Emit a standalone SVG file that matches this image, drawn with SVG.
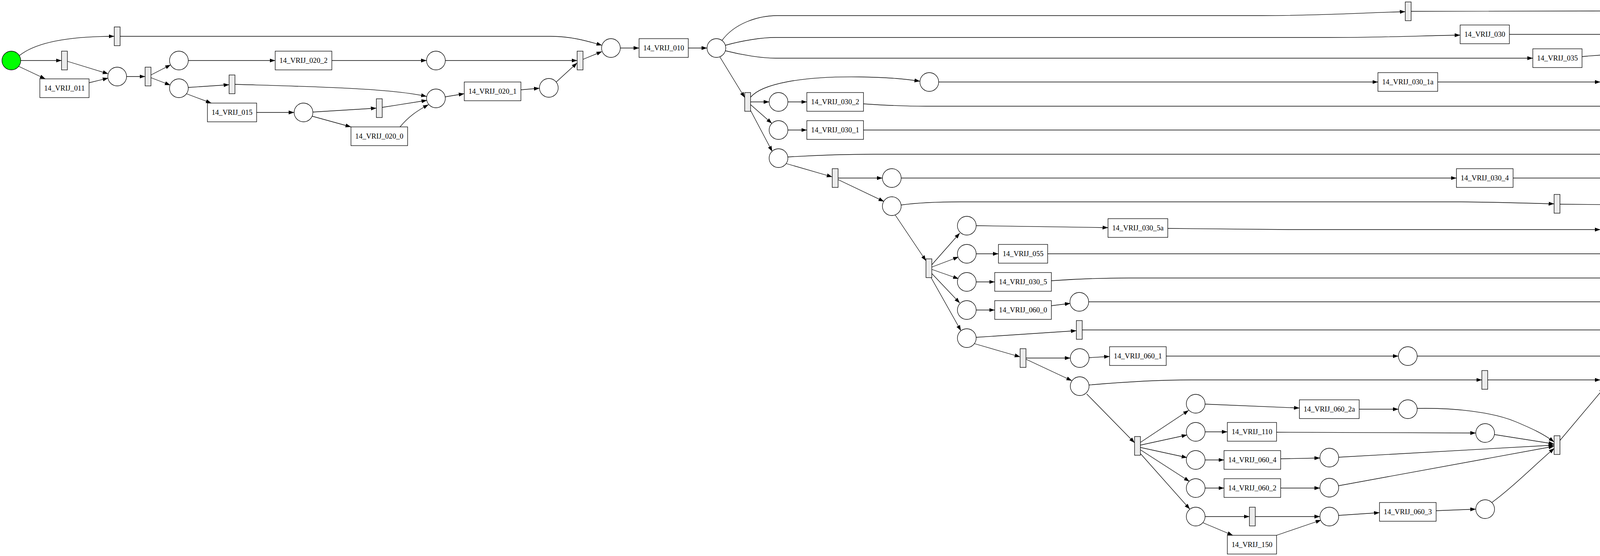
<svg xmlns="http://www.w3.org/2000/svg" width="5089" height="1424" viewBox="0 0 5089 1424">
<defs>
<style>
.place circle{fill:#fff;stroke:#000;stroke-width:1.3}
.silent rect{fill:#ececec;stroke:#000;stroke-width:1.3}
.trans rect{fill:#fff;stroke:#000;stroke-width:1.3}
.trans text{font-family:"Liberation Serif","Times New Roman",serif;font-size:18.67px;text-anchor:middle;fill:#000}
#edges path{fill:none;stroke:#000;stroke-width:1.3;marker-end:url(#arr)}
</style>
<marker id="arr" viewBox="0 0 14 10" refX="14" refY="5" markerWidth="14" markerHeight="10" markerUnits="userSpaceOnUse" orient="auto"><path d="M0,0 L14,5 L0,10 z" fill="#000"/></marker>
</defs>
<rect width="5089" height="1424" fill="#fff"/>
<g id="edges">
<path d="M50,142 C100,102 200,93 292.5,93"/>
<path d="M307.5,93 L1410,93 C1460,93 1500,104 1541,116"/>
<path d="M53,155 L157.5,155"/>
<path d="M48,170 L116,202"/>
<path d="M172.5,157 L277,189"/>
<path d="M228,212 L277,200"/>
<path d="M324,196 L371.5,196"/>
<path d="M386.5,192 L437,166"/>
<path d="M386.5,199 L436,218"/>
<path d="M482,155 L704.5,155"/>
<path d="M482,224 L586.5,217"/>
<path d="M477,240 L541,264"/>
<path d="M601.5,216 C800,222 1000,226 1092,247"/>
<path d="M657,288 L753,288"/>
<path d="M849.5,155 L1092,155"/>
<path d="M1140,155 L1477.5,155"/>
<path d="M801,287 L963.5,277"/>
<path d="M797,297 L898.5,325"/>
<path d="M978.5,275 L1093,257"/>
<path d="M1024,325 C1045,300 1065,285 1097,268"/>
<path d="M1140,248 L1188.5,240"/>
<path d="M1333.5,230 L1381,226"/>
<path d="M1424,210 L1477.5,161"/>
<path d="M1492.5,152 L1541,132"/>
<path d="M1588,123 L1636,123"/>
<path d="M1762,123 L1810,123"/>
<path d="M1848,104 C1880,60 1940,40 1990,40 L3230,40 C3400,40 3500,32 3597.5,30"/>
<path d="M1857,116 C1900,104 1950,96 1985,96 L3400,96 C3550,96 3650,91 3738,90"/>
<path d="M1857,130 C1900,141 1950,149 1985,149 L3924,149"/>
<path d="M1843,146 L1906.5,250"/>
<path d="M3612.5,29 L4805,27 C4880,27 4970,60 5040,123"/>
<path d="M3864,88 L4805,88 C4880,88 4960,108 5036,130"/>
<path d="M4050,145 C4100,140 4150,138 4200,138 L5036,138"/>
<path d="M4931.5,197 L5036,152"/>
<path d="M4973,248 C5000,228 5030,190 5047,161"/>
<path d="M1921.5,249 C1950,215 2050,195 2200,197 C2280,198 2320,203 2355,208"/>
<path d="M1921.5,261 L1969,261"/>
<path d="M1921.5,268 L1976,316"/>
<path d="M1921.5,283 L1977,388"/>
<path d="M2017,261 L2065.5,261"/>
<path d="M2017,333 L2065.5,333"/>
<path d="M2013,419 L2130.5,453"/>
<path d="M2017,402 C2100,397 2180,395 2236,395 L4384.5,395"/>
<path d="M2403,210 L3527.5,210"/>
<path d="M2210.5,266 C2270,270 2320,272 2370,272 L4193,272"/>
<path d="M2210.5,333 L4289,333"/>
<path d="M3680.5,210 L4097,210"/>
<path d="M4145,210 L4555,210 C4620,210 4665,235 4702.5,262"/>
<path d="M4241,272 L4702.5,272"/>
<path d="M4337,331 C4450,329 4500,328 4555,328 C4620,328 4665,305 4702.5,282"/>
<path d="M4645,374 L4703,290"/>
<path d="M4717.5,272 L4765,272"/>
<path d="M4810,261 L4916.5,204"/>
<path d="M4813,272 L4861,272"/>
<path d="M4399.5,395 L4606,395"/>
<path d="M2145.5,456 L2259,456"/>
<path d="M2145.5,460 L2263,516"/>
<path d="M2307,456 L3728.5,456"/>
<path d="M3873.5,456 L4448,456"/>
<path d="M4496,456 L4543.5,456"/>
<path d="M2307,525 C2350,519 2400,517 2460,517 L3740,517 C3850,518 3930,521 3978.5,522"/>
<path d="M3993.5,523 L4448,527"/>
<path d="M2292,551 L2370.5,668"/>
<path d="M2385.5,678 L2457,597"/>
<path d="M2385.5,684 L2454,658"/>
<path d="M2385.5,690 L2454,714"/>
<path d="M2384,699 L2457,776"/>
<path d="M2383,710 L2460,847"/>
<path d="M2499,578 L2836.5,583"/>
<path d="M2499,650 L2556,650"/>
<path d="M2499,722 L2546.5,722"/>
<path d="M2499,794 L2546.5,794"/>
<path d="M2691.5,783 L2740,777"/>
<path d="M2498,864 L2755.5,847"/>
<path d="M2494,880 L2611.5,914"/>
<path d="M2989.5,585 C3100,587 3200,588 3300,588 L4097,588"/>
<path d="M2682,650 L4193,650"/>
<path d="M2691.5,719 C2760,714 2830,712 2890,712 L4289,712"/>
<path d="M2787,773 L4260,773 C4320,773 4360,735 4384.5,698"/>
<path d="M4144,597 Q4330,645 4384.5,675"/>
<path d="M4241,656 L4384.5,678"/>
<path d="M4334,702 L4384.5,685"/>
<path d="M4322,822 L4385,696"/>
<path d="M4396,657 L4459,549"/>
<path d="M4490,512 L4543.5,464"/>
<path d="M4558.5,445 L4609,411"/>
<path d="M2770.5,845 L4289,845"/>
<path d="M2626.5,917 L2740,917"/>
<path d="M2626.5,920 L2744,975"/>
<path d="M2788,916 L2840.5,913"/>
<path d="M2985.5,912 L3580,912"/>
<path d="M3628,912 L4209.5,912"/>
<path d="M4224.5,902 L4297,862"/>
<path d="M2788,986 C2880,978 2960,973 3050,973 L3793.5,973"/>
<path d="M3808.5,973 L4097,973"/>
<path d="M4138,956 L4209.5,917"/>
<path d="M2782,1009 L2904.5,1134"/>
<path d="M2919.5,1133 L3043,1051"/>
<path d="M2919.5,1140 L3039,1114"/>
<path d="M2919.5,1146 L3039,1172"/>
<path d="M2919.5,1152 L3045,1233"/>
<path d="M2918,1160 L3046,1304"/>
<path d="M3085,1035 L3326.5,1045"/>
<path d="M3085,1106 L3142,1106"/>
<path d="M3085,1178 L3133.5,1178"/>
<path d="M3085,1250 L3133.5,1250"/>
<path d="M3085,1323 L3198.5,1323"/>
<path d="M3080,1339 L3156,1371"/>
<path d="M3278.5,1175 L3379,1173"/>
<path d="M3278.5,1250 L3379,1250"/>
<path d="M3213.5,1323 L3379,1323"/>
<path d="M3268,1371 L3382,1332"/>
<path d="M3427,1320 L3531.5,1313"/>
<path d="M3479.5,1048 L3580,1048"/>
<path d="M3268,1107 L3778,1109"/>
<path d="M3628,1046 C3720,1044 3820,1055 3880,1080 C3920,1097 3950,1110 3978.5,1132"/>
<path d="M3826,1113 L3978.5,1137"/>
<path d="M3427,1171 L3978.5,1140"/>
<path d="M3427,1244 L3978.5,1143"/>
<path d="M3676.5,1308 L3778,1304"/>
<path d="M3819,1287 C3870,1250 3930,1190 3979,1148"/>
<path d="M3993.5,1128 L4107,993"/>
</g>
<g id="source" class="place"><circle cx="29" cy="155" r="24" style="fill:#00ff00"/></g>
<g id="sink" class="place"><circle cx="5060" cy="138" r="24" style="fill:#ff0000"/></g>
<g id="p1" class="place"><circle cx="300" cy="196" r="24"/></g>
<g id="p2" class="place"><circle cx="458" cy="155" r="24"/></g>
<g id="p3" class="place"><circle cx="458" cy="226" r="24"/></g>
<g id="p4" class="place"><circle cx="777" cy="288" r="24"/></g>
<g id="p5" class="place"><circle cx="1116" cy="155" r="24"/></g>
<g id="p6" class="place"><circle cx="1564" cy="123" r="24"/></g>
<g id="p7" class="place"><circle cx="1834" cy="123" r="24"/></g>
<g id="p8" class="place"><circle cx="1116" cy="252" r="24"/></g>
<g id="p9" class="place"><circle cx="1405" cy="225" r="24"/></g>
<g id="q1" class="place"><circle cx="2379" cy="210" r="24"/></g>
<g id="q2" class="place"><circle cx="1993" cy="261" r="24"/></g>
<g id="q3" class="place"><circle cx="1993" cy="333" r="24"/></g>
<g id="q4" class="place"><circle cx="1993" cy="405" r="24"/></g>
<g id="s1" class="place"><circle cx="2283" cy="456" r="24"/></g>
<g id="s2" class="place"><circle cx="2283" cy="528" r="24"/></g>
<g id="u1" class="place"><circle cx="2475" cy="578" r="24"/></g>
<g id="u2" class="place"><circle cx="2475" cy="650" r="24"/></g>
<g id="u3" class="place"><circle cx="2475" cy="722" r="24"/></g>
<g id="u4" class="place"><circle cx="2475" cy="794" r="24"/></g>
<g id="u5" class="place"><circle cx="2475" cy="866" r="24"/></g>
<g id="u6" class="place"><circle cx="2763" cy="773" r="24"/></g>
<g id="x1" class="place"><circle cx="2764" cy="917" r="24"/></g>
<g id="x2" class="place"><circle cx="2764" cy="989" r="24"/></g>
<g id="y1" class="place"><circle cx="3061" cy="1034" r="24"/></g>
<g id="y2" class="place"><circle cx="3061" cy="1106" r="24"/></g>
<g id="y3" class="place"><circle cx="3061" cy="1178" r="24"/></g>
<g id="y4" class="place"><circle cx="3061" cy="1250" r="24"/></g>
<g id="y5" class="place"><circle cx="3061" cy="1323" r="24"/></g>
<g id="z1" class="place"><circle cx="3403" cy="1172" r="24"/></g>
<g id="z2" class="place"><circle cx="3403" cy="1249" r="24"/></g>
<g id="z3" class="place"><circle cx="3403" cy="1323" r="24"/></g>
<g id="x1p" class="place"><circle cx="3604" cy="912" r="24"/></g>
<g id="x3" class="place"><circle cx="4121" cy="973" r="24"/></g>
<g id="y1p" class="place"><circle cx="3604" cy="1048" r="24"/></g>
<g id="y2p" class="place"><circle cx="3802" cy="1109" r="24"/></g>
<g id="y5p" class="place"><circle cx="3802" cy="1304" r="24"/></g>
<g id="r1" class="place"><circle cx="4121" cy="210" r="24"/></g>
<g id="r2" class="place"><circle cx="4217" cy="272" r="24"/></g>
<g id="r3" class="place"><circle cx="4313" cy="333" r="24"/></g>
<g id="r4" class="place"><circle cx="4789" cy="272" r="24"/></g>
<g id="r5" class="place"><circle cx="4630" cy="395" r="24"/></g>
<g id="v1" class="place"><circle cx="4472" cy="456" r="24"/></g>
<g id="v2" class="place"><circle cx="4472" cy="528" r="24"/></g>
<g id="w1" class="place"><circle cx="4121" cy="588" r="24"/></g>
<g id="w2" class="place"><circle cx="4217" cy="650" r="24"/></g>
<g id="w3" class="place"><circle cx="4313" cy="712" r="24"/></g>
<g id="w4" class="place"><circle cx="4313" cy="845" r="24"/></g>
<g id="t1" class="silent"><rect x="292.5" y="69" width="15" height="48"/></g>
<g id="t2" class="silent"><rect x="157.5" y="131" width="15" height="48"/></g>
<g id="t3" class="silent"><rect x="371.5" y="172" width="15" height="48"/></g>
<g id="t4" class="silent"><rect x="586.5" y="192" width="15" height="48"/></g>
<g id="t5" class="silent"><rect x="1477.5" y="131" width="15" height="48"/></g>
<g id="t6" class="silent"><rect x="963.5" y="253" width="15" height="48"/></g>
<g id="t7" class="silent"><rect x="1906.5" y="237" width="15" height="48"/></g>
<g id="t8" class="silent"><rect x="2130.5" y="432" width="15" height="48"/></g>
<g id="t9" class="silent"><rect x="3597.5" y="5" width="15" height="48"/></g>
<g id="t10" class="silent"><rect x="4702.5" y="248" width="15" height="48"/></g>
<g id="t11" class="silent"><rect x="4916.5" y="176" width="15" height="48"/></g>
<g id="t12" class="silent"><rect x="4384.5" y="371" width="15" height="48"/></g>
<g id="t13" class="silent"><rect x="2370.5" y="663" width="15" height="48"/></g>
<g id="t14" class="silent"><rect x="2755.5" y="821" width="15" height="48"/></g>
<g id="t15" class="silent"><rect x="4543.5" y="432" width="15" height="48"/></g>
<g id="t16" class="silent"><rect x="3978.5" y="498" width="15" height="48"/></g>
<g id="t17" class="silent"><rect x="4384.5" y="657" width="15" height="48"/></g>
<g id="t18" class="silent"><rect x="2611.5" y="893" width="15" height="48"/></g>
<g id="t19" class="silent"><rect x="2904.5" y="1118" width="15" height="48"/></g>
<g id="t20" class="silent"><rect x="3198.5" y="1299" width="15" height="48"/></g>
<g id="t21" class="silent"><rect x="4209.5" y="888" width="15" height="48"/></g>
<g id="t22" class="silent"><rect x="3793.5" y="949" width="15" height="48"/></g>
<g id="t23" class="silent"><rect x="3978.5" y="1116" width="15" height="48"/></g>
<g id="tr_011" class="trans"><rect x="102" y="202" width="126" height="48"/><text x="165" y="231.5">14_VRIJ_011</text></g>
<g id="tr_015" class="trans"><rect x="531" y="264" width="126" height="48"/><text x="594" y="293.5">14_VRIJ_015</text></g>
<g id="tr_020_2" class="trans"><rect x="704.5" y="131" width="145" height="48"/><text x="777" y="160.5">14_VRIJ_020_2</text></g>
<g id="tr_020_0" class="trans"><rect x="898.5" y="325" width="145" height="48"/><text x="971" y="354.5">14_VRIJ_020_0</text></g>
<g id="tr_020_1" class="trans"><rect x="1188.5" y="210" width="145" height="48"/><text x="1261" y="239.5">14_VRIJ_020_1</text></g>
<g id="tr_010" class="trans"><rect x="1636" y="99" width="126" height="48"/><text x="1699" y="128.5">14_VRIJ_010</text></g>
<g id="tr_030_2" class="trans"><rect x="2065.5" y="237" width="145" height="48"/><text x="2138" y="266.5">14_VRIJ_030_2</text></g>
<g id="tr_030_1" class="trans"><rect x="2065.5" y="309" width="145" height="48"/><text x="2138" y="338.5">14_VRIJ_030_1</text></g>
<g id="tr_030_5a" class="trans"><rect x="2836.5" y="560" width="153" height="48"/><text x="2913" y="589.5">14_VRIJ_030_5a</text></g>
<g id="tr_055" class="trans"><rect x="2556" y="626" width="126" height="48"/><text x="2619" y="655.5">14_VRIJ_055</text></g>
<g id="tr_030_5" class="trans"><rect x="2546.5" y="698" width="145" height="48"/><text x="2619" y="727.5">14_VRIJ_030_5</text></g>
<g id="tr_060_0" class="trans"><rect x="2546.5" y="770" width="145" height="48"/><text x="2619" y="799.5">14_VRIJ_060_0</text></g>
<g id="tr_060_1" class="trans"><rect x="2840.5" y="888" width="145" height="48"/><text x="2913" y="917.5">14_VRIJ_060_1</text></g>
<g id="tr_060_2a" class="trans"><rect x="3326.5" y="1024" width="153" height="48"/><text x="3403" y="1053.5">14_VRIJ_060_2a</text></g>
<g id="tr_110" class="trans"><rect x="3142" y="1082" width="126" height="48"/><text x="3205" y="1111.5">14_VRIJ_110</text></g>
<g id="tr_060_4" class="trans"><rect x="3133.5" y="1154" width="145" height="48"/><text x="3206" y="1183.5">14_VRIJ_060_4</text></g>
<g id="tr_060_2" class="trans"><rect x="3133.5" y="1226" width="145" height="48"/><text x="3206" y="1255.5">14_VRIJ_060_2</text></g>
<g id="tr_150" class="trans"><rect x="3142" y="1371" width="126" height="48"/><text x="3205" y="1400.5">14_VRIJ_150</text></g>
<g id="tr_060_3" class="trans"><rect x="3531.5" y="1287" width="145" height="48"/><text x="3604" y="1316.5">14_VRIJ_060_3</text></g>
<g id="tr_030" class="trans"><rect x="3738" y="64" width="126" height="48"/><text x="3801" y="93.5">14_VRIJ_030</text></g>
<g id="tr_035" class="trans"><rect x="3924" y="125" width="126" height="48"/><text x="3987" y="154.5">14_VRIJ_035</text></g>
<g id="tr_030_1a" class="trans"><rect x="3527.5" y="186" width="153" height="48"/><text x="3604" y="215.5">14_VRIJ_030_1a</text></g>
<g id="tr_175" class="trans"><rect x="4861" y="248" width="126" height="48"/><text x="4924" y="277.5">14_VRIJ_175</text></g>
<g id="tr_030_4" class="trans"><rect x="3728.5" y="432" width="145" height="48"/><text x="3801" y="461.5">14_VRIJ_030_4</text></g>
</svg>
